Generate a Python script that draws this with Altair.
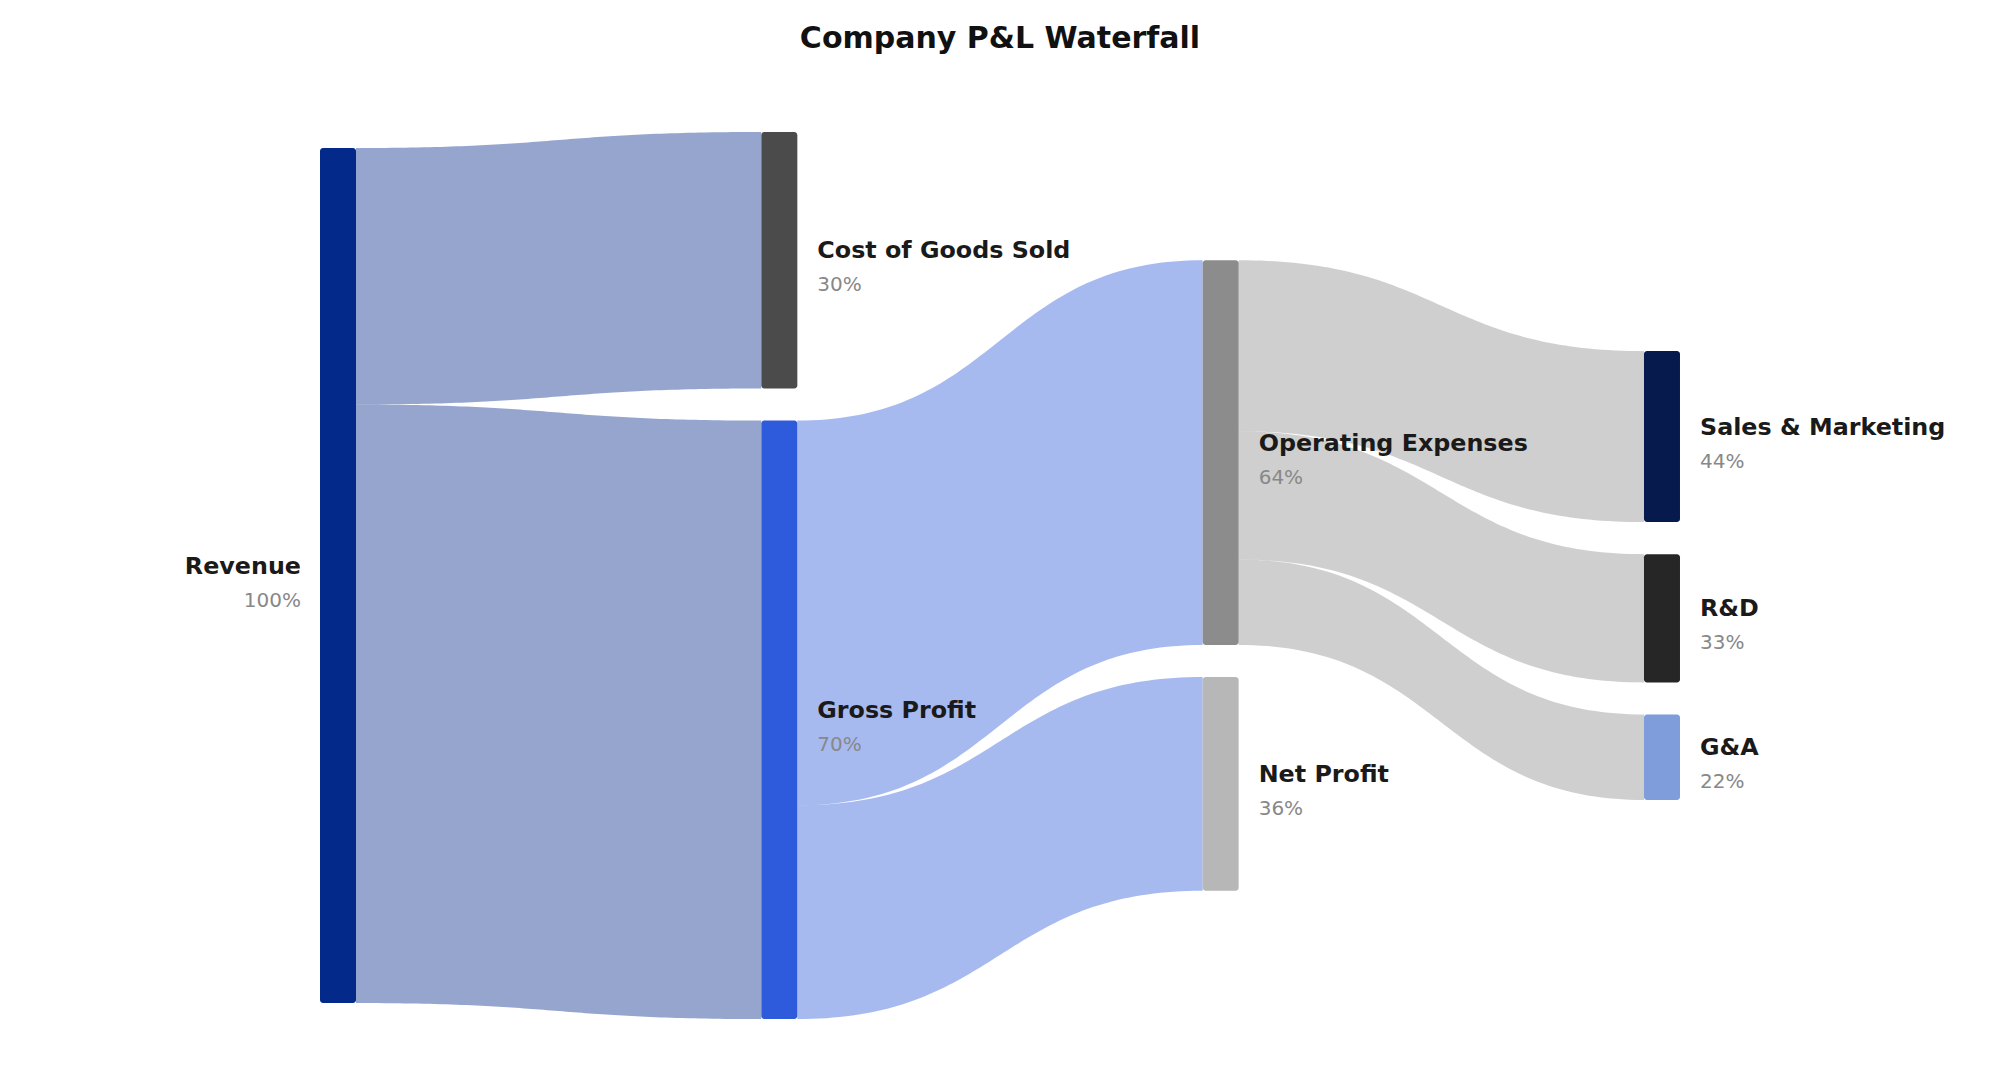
import altair as alt
import pandas as pd

# ---- data ----
node_names = ["Revenue", "Cost of Goods Sold", "Gross Profit", "Operating Expenses",
              "Net Profit", "Sales & Marketing", "R&D", "G&A"]
node_colors = ["#03298a", "#4b4b4b", "#2e5bdb", "#8c8c8c",
               "#b7b7b7", "#061a4e", "#262626", "#7f9cdb"]
node_column = [0, 1, 1, 2, 2, 3, 3, 3]

link_source = ["Revenue", "Revenue", "Gross Profit", "Gross Profit",
               "Operating Expenses", "Operating Expenses", "Operating Expenses"]
link_target = ["Cost of Goods Sold", "Gross Profit", "Operating Expenses", "Net Profit",
               "Sales & Marketing", "R&D", "G&A"]
link_value = [30, 70, 45, 25, 20, 15, 10]

# ---- layout (computed from values) ----
GAP = 3.75            # gap between nodes, value units
NODE_W = 36 / 441.33  # node width in column units
LINK_OPACITY = 0.42
N_SAMPLES = 80

inflow = {n: 0.0 for n in node_names}
outflow = {n: 0.0 for n in node_names}
parent = {}
for s, t, v in zip(link_source, link_target, link_value):
    outflow[s] += v
    inflow[t] += v
    parent[t] = s
node_value = {n: max(inflow[n], outflow[n]) for n in node_names}
color_of = dict(zip(node_names, node_colors))
col_of = dict(zip(node_names, node_column))

columns = sorted(set(node_column))
col_total = {}
for c in columns:
    members = [n for n in node_names if col_of[n] == c]
    col_total[c] = sum(node_value[n] for n in members) + GAP * (len(members) - 1)
center = max(col_total.values()) / 2

node_top = {}
for c in columns:
    y = center - col_total[c] / 2
    for n in node_names:
        if col_of[n] == c:
            node_top[n] = y
            y += node_value[n] + GAP

rows = []
for n in node_names:
    pct = 100 if n not in parent else round(100 * node_value[n] / node_value[parent[n]])
    rows.append(dict(name=n, x=col_of[n], x2=col_of[n] + NODE_W,
                     y=node_top[n], y2=node_top[n] + node_value[n],
                     yc=node_top[n] + node_value[n] / 2,
                     color=color_of[n], pct=f"{pct}%",
                     side="left" if col_of[n] == 0 else "right",
                     lx=(col_of[n] - 19 / 441.33) if col_of[n] == 0 else (col_of[n] + NODE_W + 20 / 441.33)))
nodes_df = pd.DataFrame(rows)

src_off = {n: node_top[n] for n in node_names}
tgt_off = {n: node_top[n] for n in node_names}
link_rows = []
for i, (s, t, v) in enumerate(zip(link_source, link_target, link_value)):
    sy, ty = src_off[s], tgt_off[t]
    src_off[s] += v
    tgt_off[t] += v
    x0 = col_of[s] + NODE_W
    x1 = col_of[t]
    d = x1 - x0
    for k in range(N_SAMPLES + 1):
        tt = k / N_SAMPLES
        xf = 1.5 * tt - 1.5 * tt * tt + tt ** 3
        yf = 3 * tt * tt - 2 * tt ** 3
        yt = sy + (ty - sy) * yf
        link_rows.append(dict(link=f"L{i}", lx=x0 + d * xf, ly=yt, ly2=yt + v,
                              lcolor=color_of[s]))
links_df = pd.DataFrame(link_rows)

# ---- scales ----
PX_PER_COL = 441.33
PX_PER_VAL = 8.55
W, H, TOP = 2000, 1006, 70
x_dom = [-320 / PX_PER_COL, (W - 320) / PX_PER_COL]
y0 = -(132 - TOP) / PX_PER_VAL
y_dom = [y0, y0 + H / PX_PER_VAL]
xs = alt.Scale(domain=x_dom, nice=False, zero=False)
ys = alt.Scale(domain=y_dom, nice=False, zero=False, reverse=True)

FONT = "DejaVu Sans"

links = alt.Chart(links_df).mark_area(opacity=LINK_OPACITY, orient="vertical").encode(
    x=alt.X("lx:Q", scale=xs, axis=None),
    y=alt.Y("ly:Q", scale=ys, axis=None, stack=None),
    y2=alt.Y2("ly2:Q"),
    detail=alt.Detail("link:N"),
    color=alt.Color("lcolor:N", scale=None),
)

node_marks = alt.Chart(nodes_df).mark_rect(cornerRadius=3).encode(
    x=alt.X("x:Q", scale=xs, axis=None),
    x2="x2:Q",
    y=alt.Y("y:Q", scale=ys, axis=None),
    y2="y2:Q",
    color=alt.Color("color:N", scale=None),
)

def labels(side, align):
    base = alt.Chart(nodes_df).transform_filter(alt.datum.side == side)
    name = base.mark_text(align=align, baseline="alphabetic", dy=-2, font=FONT,
                          fontSize=23.8, fontWeight="bold", color="#1a1a1a").encode(
        x=alt.X("lx:Q", scale=xs, axis=None),
        y=alt.Y("yc:Q", scale=ys, axis=None),
        text="name:N",
    )
    pct = base.mark_text(align=align, baseline="alphabetic", dy=31, font=FONT,
                         fontSize=20, color="#888888").encode(
        x=alt.X("lx:Q", scale=xs, axis=None),
        y=alt.Y("yc:Q", scale=ys, axis=None),
        text="pct:N",
    )
    return name + pct

chart = alt.layer(links, node_marks, labels("left", "right"), labels("right", "left")).properties(
    width=W, height=H,
    background="white",
    title=alt.TitleParams("Company P&L Waterfall", font=FONT, fontSize=30, fontWeight="bold",
                          color="#111111", anchor="middle", offset=16),
    autosize=alt.AutoSizeParams(type="none"),
    padding={"left": 0, "top": TOP, "right": 0, "bottom": 0},
).configure_view(stroke=None)

chart.save("out.html", embed_options={"renderer": "svg", "actions": False})
